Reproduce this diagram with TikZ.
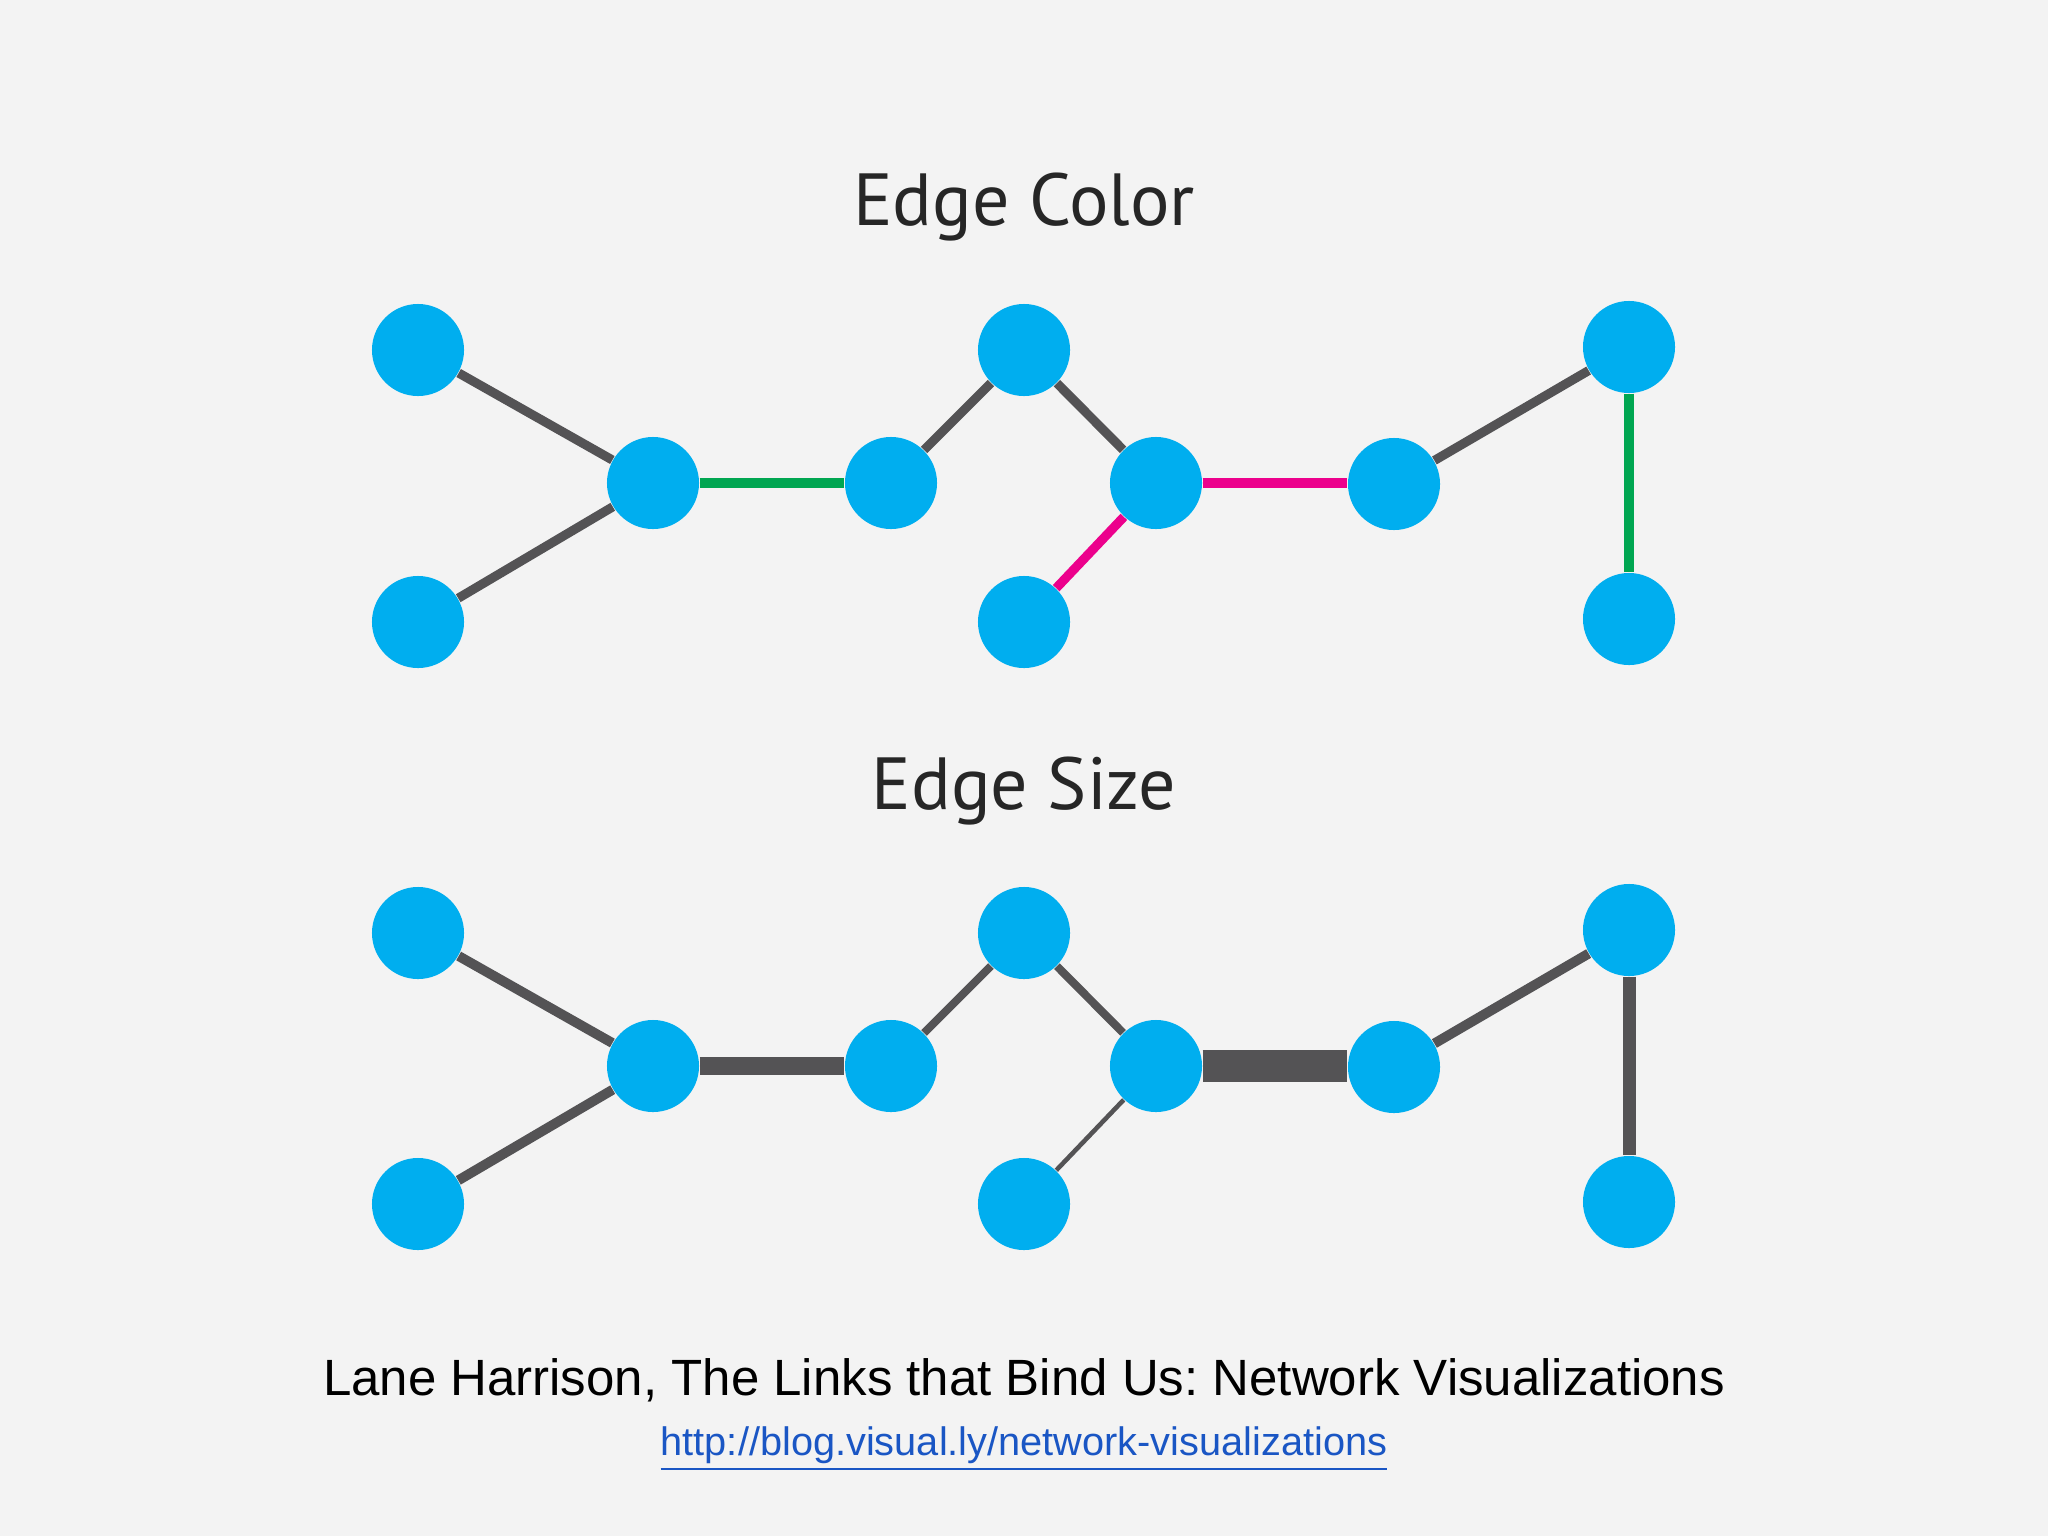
\documentclass[tikz,border=0pt]{standalone}
\usepackage{fontspec}
\setmainfont{Liberation Sans}
\newfontfamily\titlefont{PT Sans}
\usepackage{xcolor}
\usepackage{tikz}
\usetikzlibrary{positioning}
\definecolor{bgcol}{HTML}{F3F3F3}
\definecolor{nodecol}{HTML}{00AEEF}
\definecolor{edgecol}{HTML}{545355}
\definecolor{greencol}{HTML}{00A651}
\definecolor{pinkcol}{HTML}{EC008C}
\definecolor{linkcol}{HTML}{1A56C4}
\frenchspacing

\begin{document}
\begin{tikzpicture}[
  x=0.01cm, y=-0.01cm,
  vertex/.style={circle, fill=nodecol, draw=none, minimum size=0.92cm, inner sep=0pt},
  edge/.style={draw=edgecol, line width=2.6pt},
  title/.style={font=\titlefont\fontsize{21}{25}\selectfont, text=black!85},
  greenedge/.style={edge, draw=greencol},
  pinkedge/.style={edge, draw=pinkcol}
]
  \fill[bgcol] (0,0) rectangle (2048,1536);
  \useasboundingbox (0,0) rectangle (2048,1536);

  % Top: edge color
  \node[title] (t1) at (1024,207) {Edge Color};
  \node[vertex] (a1) at (418,350) {};
  \node[vertex] (b1) at (418,622) {};
  \node[vertex] (c1) at (653,483) {};
  \node[vertex] (d1) at (891,483) {};
  \node[vertex] (e1) at (1024,350) {};
  \node[vertex] (f1) at (1156,483) {};
  \node[vertex] (g1) at (1024,622) {};
  \node[vertex] (h1) at (1394,484) {};
  \node[vertex] (i1) at (1629,347) {};
  \node[vertex] (j1) at (1629,619) {};
  \draw[edge] (a1) -- (c1);
  \draw[edge] (b1) -- (c1);
  \draw[greenedge] (c1) -- (d1);
  \draw[edge] (d1) -- (e1);
  \draw[edge] (e1) -- (f1);
  \draw[pinkedge] (g1) -- (f1);
  \draw[pinkedge] (f1) -- (f1 -| h1.west);
  \draw[edge] (h1) -- (i1);
  \draw[greenedge] (i1) -- (j1);

  % Bottom: edge size
  \node[title] (t2) at (1024,791) {Edge Size};
  \node[vertex] (a2) at (418,933) {};
  \node[vertex] (b2) at (418,1204) {};
  \node[vertex] (c2) at (653,1066) {};
  \node[vertex] (d2) at (891,1066) {};
  \node[vertex] (e2) at (1024,933) {};
  \node[vertex] (f2) at (1156,1066) {};
  \node[vertex] (g2) at (1024,1204) {};
  \node[vertex] (h2) at (1394,1067) {};
  \node[vertex] (i2) at (1629,930) {};
  \node[vertex] (j2) at (1629,1202) {};
  \draw[edge, line width=2.8pt] (a2) -- (c2);
  \draw[edge, line width=2.8pt] (b2) -- (c2);
  \draw[edge, line width=5.1pt] (c2) -- (d2);
  \draw[edge, line width=2.3pt] (d2) -- (e2);
  \draw[edge, line width=2.3pt] (e2) -- (f2);
  \draw[edge, line width=1.3pt] (g2) -- (f2);
  \draw[edge, line width=9.1pt] (f2) -- (f2 -| h2.west);
  \draw[edge, line width=2.8pt] (h2) -- (i2);
  \draw[edge, line width=3.7pt] (i2) -- (j2);

  \node[font=\fontsize{14.5}{17}\selectfont] (src) at (1024,1380)
    {Lane Harrison, The Links that Bind Us: Network Visualizations};
  \node[font=\fontsize{11.3}{14}\selectfont, text=linkcol] (url) at (1024,1449)
    {\underline{http://blog.visual.ly/network-visualizations}};
\end{tikzpicture}
\end{document}
